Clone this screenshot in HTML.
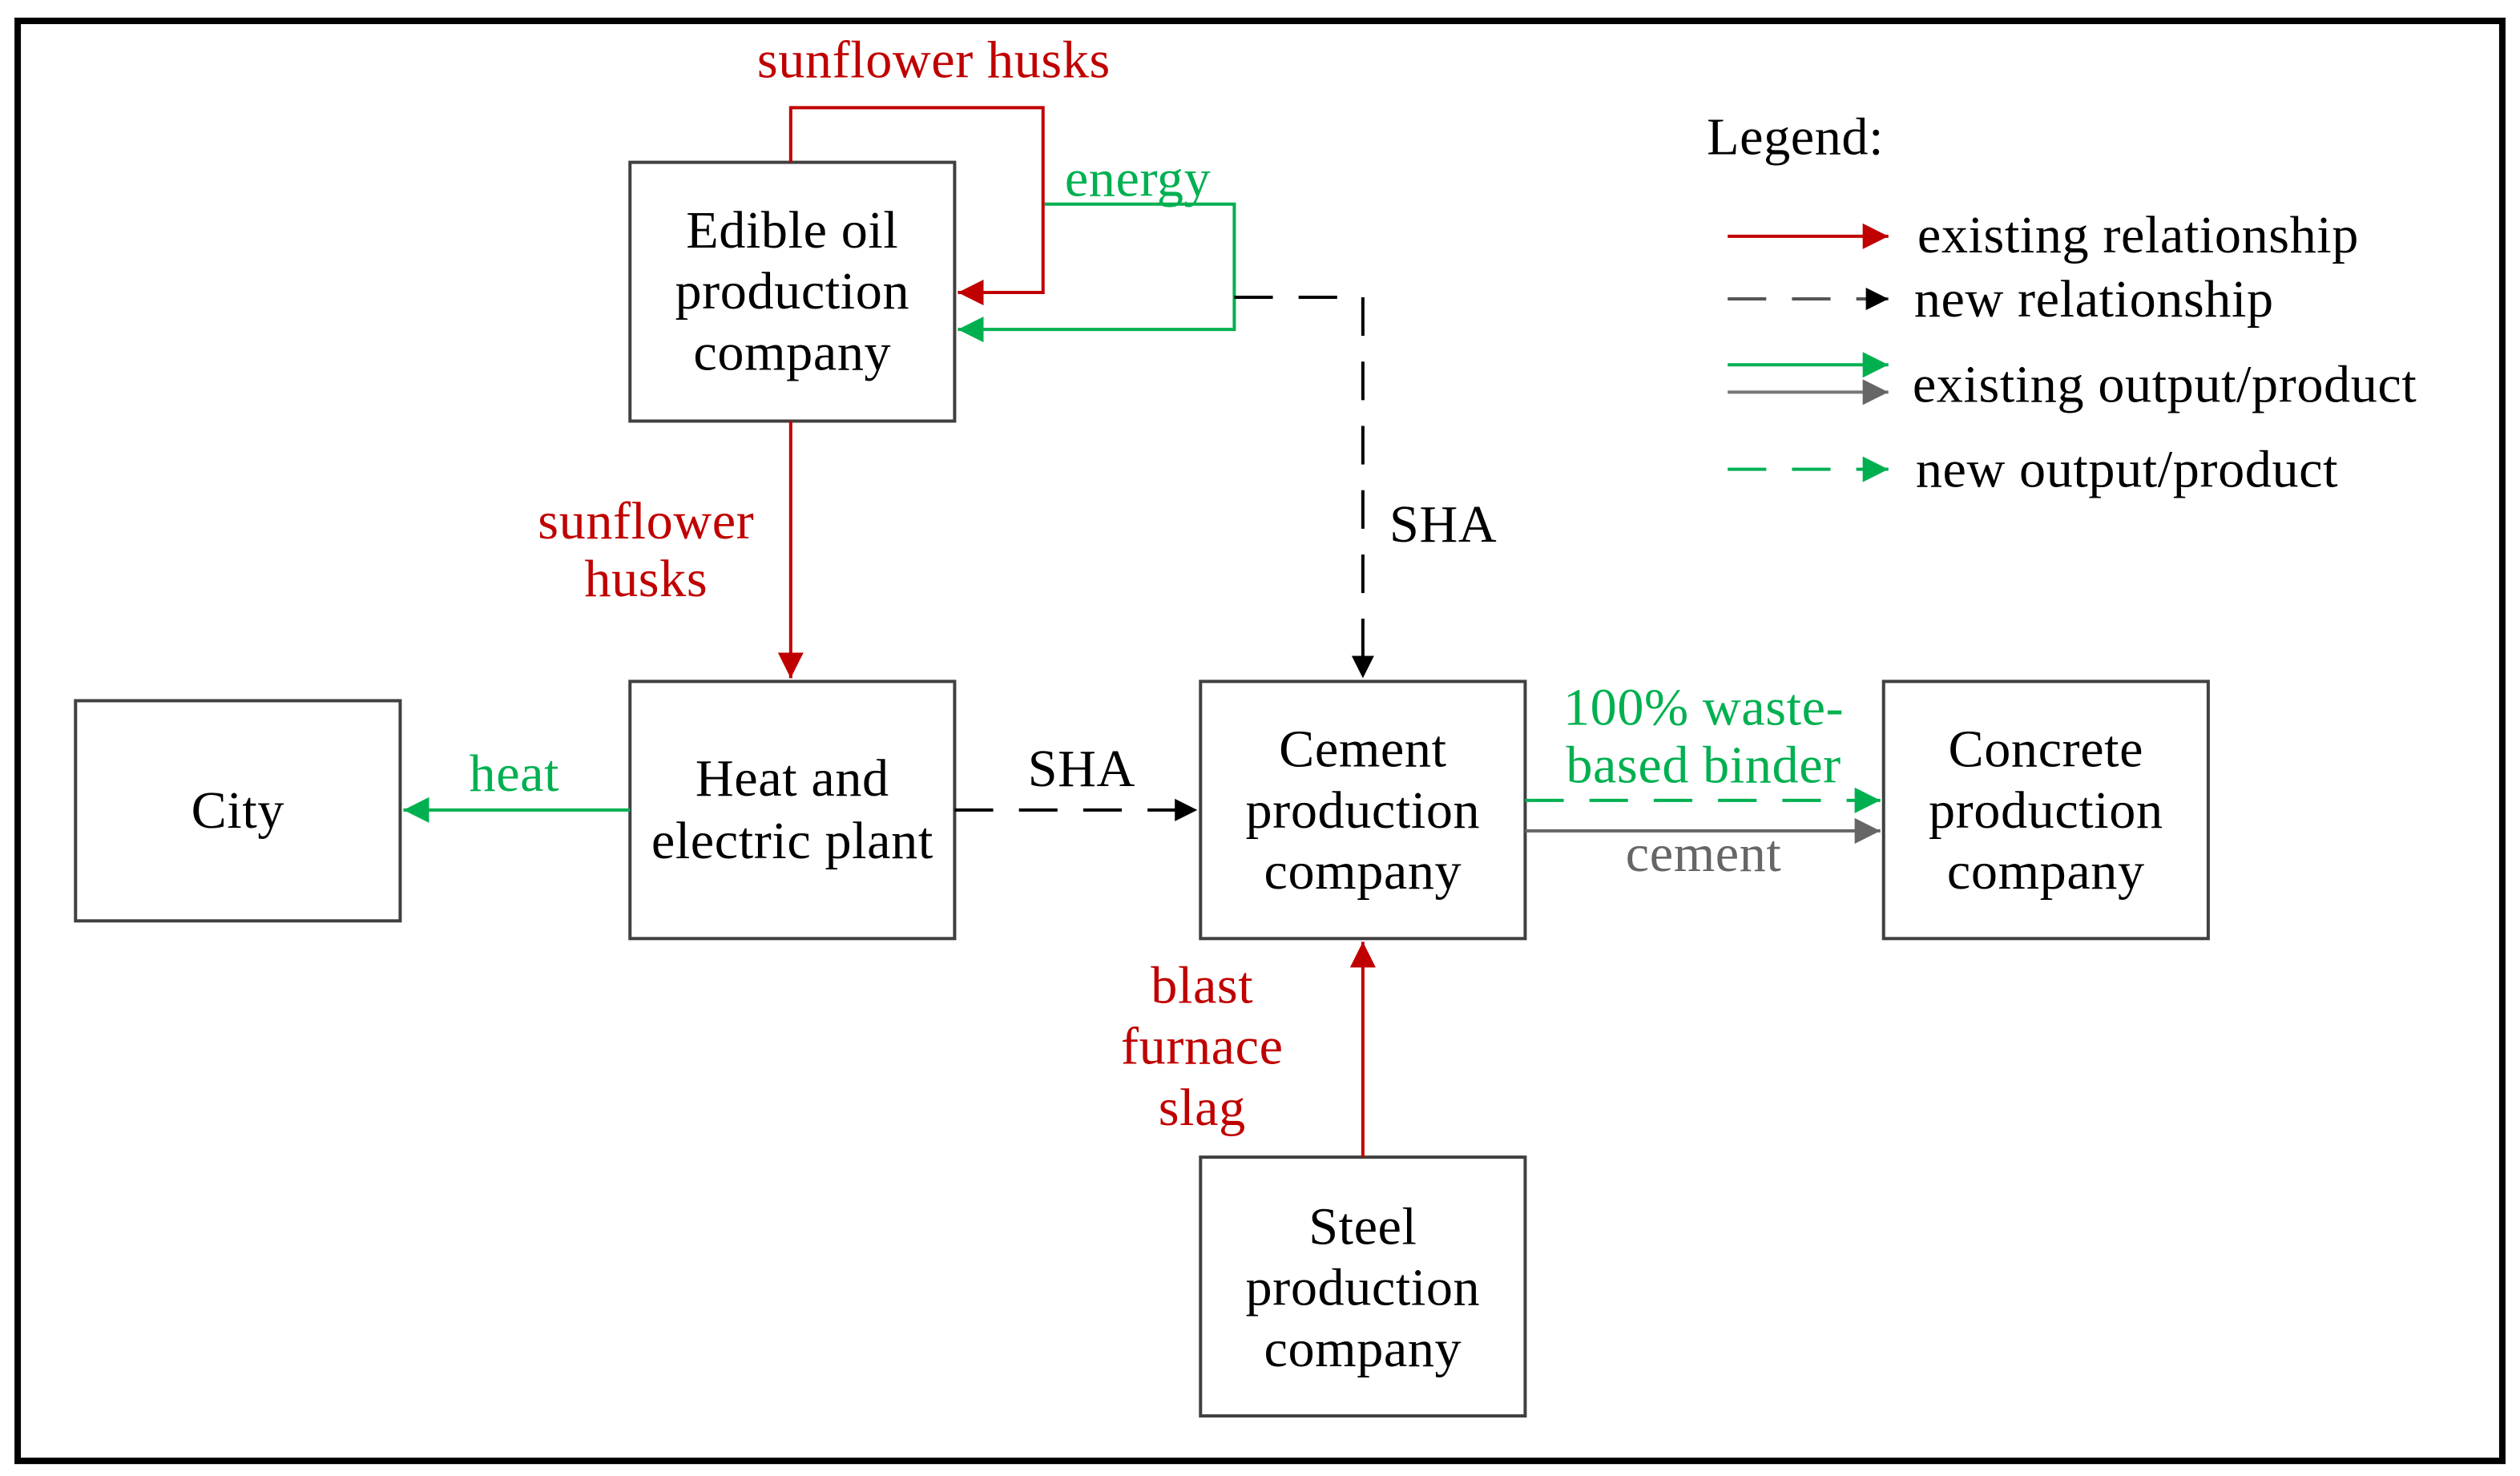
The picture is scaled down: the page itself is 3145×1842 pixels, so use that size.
<!DOCTYPE html>
<html><head><meta charset="utf-8"><style>html,body{margin:0;padding:0;background:#fff}svg{display:block}</style></head>
<body>
<svg width="3145" height="1842" viewBox="0 0 1568 918.4" preserveAspectRatio="none" xmlns="http://www.w3.org/2000/svg" font-family="'Liberation Serif', serif" font-size="33" letter-spacing="0.3" text-anchor="middle">
<defs>
<marker id="ar" viewBox="0 0 10 10" refX="10" refY="5" markerWidth="16" markerHeight="16" markerUnits="userSpaceOnUse" orient="auto"><path d="M0,0L10,5L0,10z" fill="#c00000"/></marker>
<marker id="ag" viewBox="0 0 10 10" refX="10" refY="5" markerWidth="16" markerHeight="16" markerUnits="userSpaceOnUse" orient="auto"><path d="M0,0L10,5L0,10z" fill="#00b050"/></marker>
<marker id="ab" viewBox="0 0 10 10" refX="10" refY="5" markerWidth="14" markerHeight="14" markerUnits="userSpaceOnUse" orient="auto"><path d="M0,0L10,5L0,10z" fill="#000"/></marker>
<marker id="ay" viewBox="0 0 10 10" refX="10" refY="5" markerWidth="16" markerHeight="16" markerUnits="userSpaceOnUse" orient="auto"><path d="M0,0L10,5L0,10z" fill="#666"/></marker>
</defs>
<rect x="11" y="13" width="1546" height="896" fill="#fff" stroke="#000" stroke-width="4"/>
<g fill="#fff" stroke="#404040" stroke-width="2">
<rect x="392" y="101" width="202" height="161"/>
<rect x="47" y="436" width="202" height="137"/>
<rect x="392" y="424" width="202" height="160"/>
<rect x="747" y="424" width="202" height="160"/>
<rect x="1172" y="424" width="202" height="160"/>
<rect x="747" y="720" width="202" height="161"/>
</g>
<g fill="none" stroke-width="2">
<path d="M492,101V67H649V182H596" stroke="#c00000" marker-end="url(#ar)"/>
<path d="M650,127H768V205H596" stroke="#00b050" marker-end="url(#ag)"/>
<path d="M768,185H848V422" stroke="#000" stroke-dasharray="24,16" marker-end="url(#ab)"/>
<path d="M492,262V422" stroke="#c00000" marker-end="url(#ar)"/>
<path d="M392,504H251" stroke="#00b050" marker-end="url(#ag)"/>
<path d="M594,504H745" stroke="#000" stroke-dasharray="24,16" marker-end="url(#ab)"/>
<path d="M949,498H1170" stroke="#00b050" stroke-dasharray="24,16" marker-end="url(#ag)"/>
<path d="M949,517H1170" stroke="#666" marker-end="url(#ay)"/>
<path d="M848,720V586" stroke="#c00000" marker-end="url(#ar)"/>
<path d="M1075,147H1175" stroke="#c00000" marker-end="url(#ar)"/>
<path d="M1075,186H1175" stroke="#555" stroke-dasharray="24,16" marker-end="url(#ab)"/>
<path d="M1075,227H1175" stroke="#00b050" marker-end="url(#ag)"/>
<path d="M1075,244H1175" stroke="#777" marker-end="url(#ay)"/>
<path d="M1075,292H1175" stroke="#00b050" stroke-dasharray="24,16" marker-end="url(#ag)"/>
</g>
<g fill="#000">
<text x="493" y="154">Edible oil</text>
<text x="493" y="192">production</text>
<text x="493" y="230">company</text>
<text x="148" y="515">City</text>
<text x="493" y="495">Heat and</text>
<text x="493" y="534">electric plant</text>
<text x="848" y="477">Cement</text>
<text x="848" y="515">production</text>
<text x="848" y="553">company</text>
<text x="1273" y="477">Concrete</text>
<text x="1273" y="515">production</text>
<text x="1273" y="553">company</text>
<text x="848" y="774">Steel</text>
<text x="848" y="812">production</text>
<text x="848" y="850">company</text>
<text x="898" y="337">SHA</text>
<text x="673" y="489">SHA</text>
<text x="1062" y="96" text-anchor="start">Legend:</text>
<text x="1193" y="157" text-anchor="start">existing relationship</text>
<text x="1191" y="197" text-anchor="start">new relationship</text>
<text x="1190" y="250" text-anchor="start">existing output/product</text>
<text x="1192" y="303" text-anchor="start">new output/product</text>
</g>
<g fill="#c00000">
<text x="581" y="48">sunflower husks</text>
<text x="402" y="335">sunflower</text>
<text x="402" y="371">husks</text>
<text x="748" y="624">blast</text>
<text x="748" y="662">furnace</text>
<text x="748" y="700">slag</text>
</g>
<g fill="#00b050">
<text x="708" y="122">energy</text>
<text x="320" y="492">heat</text>
<text x="1060" y="451">100% waste-</text>
<text x="1060" y="487">based binder</text>
</g>
<text x="1060" y="542" fill="#666">cement</text>
</svg>
</body></html>
